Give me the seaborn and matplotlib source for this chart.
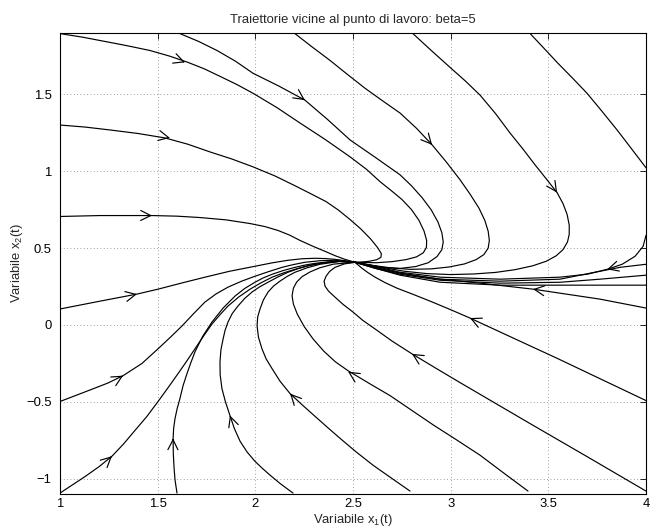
import numpy as np
import pandas as pd
import matplotlib
matplotlib.use("Agg")
import matplotlib.pyplot as plt
import seaborn as sns

# ---------------- text / axes ----------------
title = "Traiettorie vicine al punto di lavoro: beta=5"
xlabel = "Variabile x$_1$(t)"
ylabel = "Variabile x$_2$(t)"
xticks = [1, 1.5, 2, 2.5, 3, 3.5, 4]
xticklabels = ["1", "1.5", "2", "2.5", "3", "3.5", "4"]
yticks = [-1, -0.5, 0, 0.5, 1, 1.5]
yticklabels = ["\u22121", "\u22120.5", "0", "0.5", "1", "1.5"]
xlim = (1, 4)
ylim = (-1.1, 1.9)

# ---------------- trajectories (x1, x2) ----------------
left_1p9 = [(1.000, 1.896), (1.115, 1.873), (1.230, 1.845), (1.345, 1.817), (1.461, 1.786),
            (1.560, 1.750), (1.655, 1.709), (1.740, 1.666), (1.819, 1.618), (1.905, 1.565),
            (1.988, 1.508), (2.110, 1.415), (2.229, 1.314), (2.360, 1.205), (2.485, 1.094),
            (2.570, 1.012), (2.639, 0.932), (2.700, 0.870), (2.751, 0.816), (2.800, 0.750),
            (2.838, 0.680), (2.864, 0.610), (2.877, 0.550), (2.876, 0.505), (2.860, 0.470),
            (2.825, 0.443), (2.770, 0.425), (2.700, 0.412), (2.620, 0.405), (2.510, 0.408)]
top_1p6 = [(1.614, 1.896), (1.710, 1.845), (1.804, 1.786), (1.900, 1.715), (1.988, 1.638),
           (2.120, 1.555), (2.254, 1.463), (2.370, 1.337), (2.485, 1.204), (2.615, 1.090),
           (2.741, 0.977), (2.800, 0.905), (2.854, 0.828), (2.900, 0.750), (2.935, 0.670),
           (2.955, 0.600), (2.962, 0.540), (2.955, 0.490), (2.930, 0.445), (2.885, 0.405),
           (2.820, 0.380), (2.741, 0.368), (2.650, 0.375), (2.575, 0.392), (2.510, 0.408)]
left_1p3 = [(1.000, 1.301), (1.128, 1.288), (1.256, 1.269), (1.400, 1.246), (1.538, 1.217),
            (1.655, 1.176), (1.768, 1.126), (1.880, 1.080), (1.988, 1.029), (2.100, 0.970),
            (2.203, 0.906), (2.290, 0.850), (2.362, 0.803), (2.425, 0.748), (2.485, 0.686),
            (2.540, 0.625), (2.590, 0.560), (2.625, 0.505), (2.645, 0.465), (2.643, 0.440),
            (2.620, 0.424), (2.580, 0.414), (2.540, 0.409), (2.510, 0.408)]
left_0p7 = [(1.000, 0.706), (1.205, 0.712), (1.471, 0.712), (1.600, 0.708), (1.717, 0.699),
            (1.850, 0.684), (1.973, 0.660), (2.050, 0.640), (2.116, 0.615), (2.175, 0.585),
            (2.229, 0.550), (2.295, 0.512), (2.357, 0.479), (2.410, 0.450), (2.459, 0.427),
            (2.510, 0.408)]
left_0p1 = [(1.000, 0.104), (1.205, 0.155), (1.300, 0.178), (1.394, 0.201), (1.502, 0.233),
            (1.620, 0.272), (1.742, 0.311), (1.870, 0.350), (1.998, 0.382), (2.085, 0.404),
            (2.167, 0.421), (2.240, 0.431), (2.306, 0.434), (2.360, 0.432), (2.408, 0.427),
            (2.460, 0.418), (2.510, 0.408)]
left_m0p5 = [(1.000, -0.498), (1.160, -0.420), (1.245, -0.378), (1.323, -0.330), (1.420, -0.250),
             (1.502, -0.155), (1.565, -0.080), (1.625, -0.006), (1.685, 0.075), (1.742, 0.149),
             (1.800, 0.203), (1.860, 0.246), (1.930, 0.285), (1.998, 0.317), (2.070, 0.348),
             (2.137, 0.375), (2.195, 0.393), (2.254, 0.408), (2.330, 0.418), (2.408, 0.421),
             (2.510, 0.408)]
left_m1p1 = [(1.000, -1.094), (1.130, -0.985), (1.200, -0.922), (1.266, -0.854), (1.325, -0.775),
             (1.384, -0.686), (1.445, -0.595), (1.502, -0.498), (1.555, -0.405), (1.604, -0.317),
             (1.650, -0.233), (1.691, -0.155), (1.735, -0.072), (1.778, 0.006), (1.820, 0.068),
             (1.860, 0.123), (1.915, 0.182), (1.973, 0.233), (2.030, 0.275), (2.086, 0.311),
             (2.145, 0.339), (2.203, 0.362), (2.255, 0.381), (2.306, 0.395), (2.370, 0.407),
             (2.434, 0.414), (2.510, 0.408)]
bottom_1p6 = [(1.599, -1.094), (1.589, -1.010), (1.584, -0.932), (1.580, -0.835), (1.579, -0.738),
              (1.582, -0.670), (1.589, -0.608), (1.600, -0.543), (1.614, -0.479), (1.630, -0.395),
              (1.650, -0.317), (1.670, -0.245), (1.691, -0.175), (1.730, -0.075), (1.778, 0.019),
              (1.835, 0.110), (1.896, 0.188), (1.945, 0.237), (1.998, 0.278), (2.040, 0.306),
              (2.086, 0.330), (2.145, 0.355), (2.203, 0.375), (2.255, 0.390), (2.306, 0.401),
              (2.370, 0.410), (2.434, 0.414), (2.510, 0.408)]
bottom_2p2 = [(2.193, -1.094), (2.130, -1.035), (2.075, -0.977), (2.035, -0.932), (1.998, -0.887),
              (1.958, -0.827), (1.922, -0.757), (1.893, -0.675), (1.870, -0.589), (1.847, -0.500),
              (1.829, -0.414), (1.820, -0.325), (1.819, -0.239), (1.824, -0.160), (1.835, -0.091),
              (1.845, -0.035), (1.860, 0.019), (1.882, 0.075), (1.911, 0.123), (1.945, 0.172),
              (1.983, 0.214), (2.022, 0.248), (2.065, 0.278), (2.115, 0.312), (2.167, 0.343),
              (2.222, 0.368), (2.280, 0.388), (2.345, 0.404), (2.408, 0.414), (2.510, 0.408)]
bottom_2p8 = [(2.792, -1.081), (2.695, -0.995), (2.603, -0.913), (2.515, -0.825), (2.434, -0.738),
              (2.368, -0.665), (2.306, -0.595), (2.240, -0.520), (2.178, -0.447), (2.127, -0.367),
              (2.086, -0.285), (2.055, -0.220), (2.034, -0.155), (2.016, -0.080), (2.009, -0.006),
              (2.012, 0.052), (2.024, 0.104), (2.041, 0.162), (2.065, 0.214), (2.093, 0.253),
              (2.126, 0.285), (2.163, 0.316), (2.203, 0.343), (2.265, 0.372), (2.331, 0.395),
              (2.434, 0.414), (2.510, 0.408)]
bottom_3p4 = [(3.396, -1.081), (3.270, -0.962), (3.151, -0.848), (3.033, -0.750), (2.915, -0.654),
              (2.800, -0.555), (2.690, -0.460), (2.580, -0.378), (2.475, -0.298), (2.410, -0.240),
              (2.350, -0.170), (2.295, -0.090), (2.250, -0.010), (2.215, 0.070), (2.195, 0.135),
              (2.188, 0.190), (2.195, 0.240), (2.212, 0.280), (2.240, 0.315), (2.280, 0.345),
              (2.330, 0.372), (2.400, 0.396), (2.510, 0.408)]
bottom_4p0 = [(4.000, -1.081), (3.700, -0.858), (3.396, -0.634), (3.220, -0.503), (3.048, -0.375),
              (2.925, -0.282), (2.802, -0.188), (2.700, -0.105), (2.613, -0.026), (2.550, 0.030),
              (2.500, 0.084), (2.450, 0.133), (2.408, 0.181), (2.375, 0.220), (2.357, 0.252),
              (2.352, 0.285), (2.362, 0.317), (2.380, 0.348), (2.408, 0.375), (2.455, 0.397),
              (2.510, 0.408)]
right_m0p5 = [(4.000, -0.492), (3.775, -0.356), (3.550, -0.220), (3.325, -0.088), (3.099, 0.045),
              (2.995, 0.102), (2.895, 0.155), (2.810, 0.198), (2.726, 0.239), (2.665, 0.275),
              (2.613, 0.311), (2.575, 0.342), (2.546, 0.369), (2.510, 0.408)]
right_0p1 = [(4.000, 0.110), (3.765, 0.168), (3.422, 0.233), (3.151, 0.272), (2.946, 0.298),
             (2.850, 0.315), (2.741, 0.337), (2.680, 0.355), (2.613, 0.375), (2.560, 0.392),
             (2.510, 0.408)]
right_in_a = [(4.000, 0.583), (3.985, 0.511), (3.944, 0.447), (3.878, 0.395), (3.801, 0.362),
              (3.698, 0.330), (3.560, 0.311), (3.253, 0.298), (2.946, 0.311), (2.741, 0.343),
              (2.613, 0.382), (2.510, 0.408)]
right_in_b = [(4.000, 0.395), (3.867, 0.375), (3.714, 0.337), (3.560, 0.298), (3.253, 0.285),
              (2.946, 0.298), (2.741, 0.337), (2.613, 0.375), (2.510, 0.408)]
right_in_c = [(4.000, 0.324), (3.765, 0.298), (3.560, 0.278), (3.253, 0.272), (2.946, 0.291),
              (2.741, 0.330), (2.613, 0.369), (2.510, 0.408)]
right_in_d = [(4.000, 0.259), (3.765, 0.259), (3.560, 0.259), (3.253, 0.259), (2.946, 0.278),
              (2.741, 0.324), (2.613, 0.369), (2.510, 0.408)]
top_2p2 = [(2.203, 1.896), (2.290, 1.810), (2.382, 1.722), (2.470, 1.632), (2.562, 1.540),
           (2.650, 1.460), (2.741, 1.379), (2.825, 1.280), (2.905, 1.172), (2.978, 1.060),
           (3.048, 0.945), (3.100, 0.850), (3.145, 0.760), (3.175, 0.680), (3.192, 0.610),
           (3.198, 0.550), (3.192, 0.500), (3.170, 0.458), (3.130, 0.425), (3.070, 0.397),
           (2.990, 0.377), (2.900, 0.365), (2.792, 0.362), (2.690, 0.372), (2.600, 0.388),
           (2.510, 0.408)]
top_2p8 = [(2.807, 1.896), (2.900, 1.787), (2.997, 1.676), (3.075, 1.588), (3.151, 1.495),
           (3.230, 1.375), (3.304, 1.249), (3.370, 1.145), (3.432, 1.042), (3.490, 0.950),
           (3.545, 0.861), (3.575, 0.790), (3.596, 0.720), (3.607, 0.650), (3.607, 0.590),
           (3.598, 0.540), (3.575, 0.490), (3.540, 0.450), (3.490, 0.415), (3.420, 0.385),
           (3.330, 0.360), (3.230, 0.342), (3.120, 0.332), (3.000, 0.328), (2.880, 0.334),
           (2.760, 0.350), (2.640, 0.377), (2.510, 0.408)]
top_3p4 = [(3.407, 1.896), (3.478, 1.800), (3.550, 1.702), (3.625, 1.605), (3.698, 1.508),
           (3.775, 1.390), (3.852, 1.269), (3.925, 1.148), (4.000, 1.023)]

trajectories = {
    "left_1p9": left_1p9, "top_1p6": top_1p6, "left_1p3": left_1p3, "left_0p7": left_0p7,
    "left_0p1": left_0p1, "left_m0p5": left_m0p5, "left_m1p1": left_m1p1,
    "bottom_1p6": bottom_1p6, "bottom_2p2": bottom_2p2, "bottom_2p8": bottom_2p8,
    "bottom_3p4": bottom_3p4, "bottom_4p0": bottom_4p0, "right_m0p5": right_m0p5,
    "right_0p1": right_0p1, "right_in_a": right_in_a, "right_in_b": right_in_b,
    "right_in_c": right_in_c, "right_in_d": right_in_d, "top_2p2": top_2p2,
    "top_2p8": top_2p8, "top_3p4": top_3p4,
}

# arrow heads (tip positions)
arrow_traj = ["left_1p9", "top_1p6", "left_1p3", "left_0p7", "left_0p1", "left_m0p5",
              "left_m1p1", "bottom_1p6", "bottom_2p2", "bottom_2p8", "bottom_3p4",
              "bottom_4p0", "right_m0p5", "right_0p1", "right_in_a", "top_2p2", "top_2p8"]
arrow_x = [1.640, 2.254, 1.563, 1.471, 1.394, 1.323, 1.266, 1.579, 1.870, 2.178, 2.475,
           2.802, 3.099, 3.422, 3.801, 2.905, 3.545]
arrow_y = [1.709, 1.463, 1.217, 0.712, 0.201, -0.330, -0.854, -0.738, -0.589, -0.447, -0.304,
           -0.188, 0.045, 0.233, 0.362, 1.172, 0.861]

# ---------------- style ----------------
sns.set_theme(style="white")
plt.rcParams['font.family'] = ['Liberation Sans', 'DejaVu Sans']
plt.rcParams['mathtext.default'] = 'regular'
FS = 9.4

fig = plt.figure(figsize=(6.56, 5.31), dpi=100)
ax = fig.add_axes([60 / 656, 37 / 531, 586 / 656, 461 / 531])

rows = []
for name, pts in trajectories.items():
    for k, (x, y) in enumerate(pts):
        rows.append((name, k, x, y))
df = pd.DataFrame(rows, columns=["traj", "order", "x1", "x2"])

sns.lineplot(data=df, x="x1", y="x2", units="traj", estimator=None, sort=False,
             color="black", lw=0.85, ax=ax, legend=False)

for name, axx, ayy in zip(arrow_traj, arrow_x, arrow_y):
    pts = np.array(trajectories[name])
    d = np.hypot(pts[:, 0] - axx, pts[:, 1] - ayy)
    i = int(np.argmin(d))
    i0 = max(i - 1, 0)
    i1 = min(i + 1, len(pts) - 1)
    dx = pts[i1, 0] - pts[i0, 0]
    dy = pts[i1, 1] - pts[i0, 1]
    n = np.hypot(dx, dy)
    ax.annotate("", xy=(axx, ayy), xytext=(axx - dx / n * 0.01, ayy - dy / n * 0.01),
                arrowprops=dict(arrowstyle="->,head_length=0.6,head_width=0.3",
                                lw=0.85, color="black", shrinkA=0, shrinkB=0,
                                mutation_scale=12))

ax.set_xlim(*xlim)
ax.set_ylim(*ylim)
ax.set_xticks(xticks)
ax.set_xticklabels(xticklabels)
ax.set_yticks(yticks)
ax.set_yticklabels(yticklabels)
ax.grid(True, linestyle=(0, (1, 3)), color="#808080", lw=0.6)
for s in ax.spines.values():
    s.set_color("black")
    s.set_linewidth(0.8)
    s.set_visible(True)
ax.tick_params(direction="in", length=4, width=0.6, top=True, right=True,
               labelsize=FS, colors="black")
ax.tick_params(axis="x", pad=3)
ax.tick_params(axis="y", pad=6)
ax.set_xlabel(xlabel, fontsize=FS, labelpad=1.5)
ax.set_ylabel(ylabel, fontsize=FS, labelpad=1)
ax.set_title(title, fontsize=FS, pad=7)

fig.savefig("out.png", dpi=100)
